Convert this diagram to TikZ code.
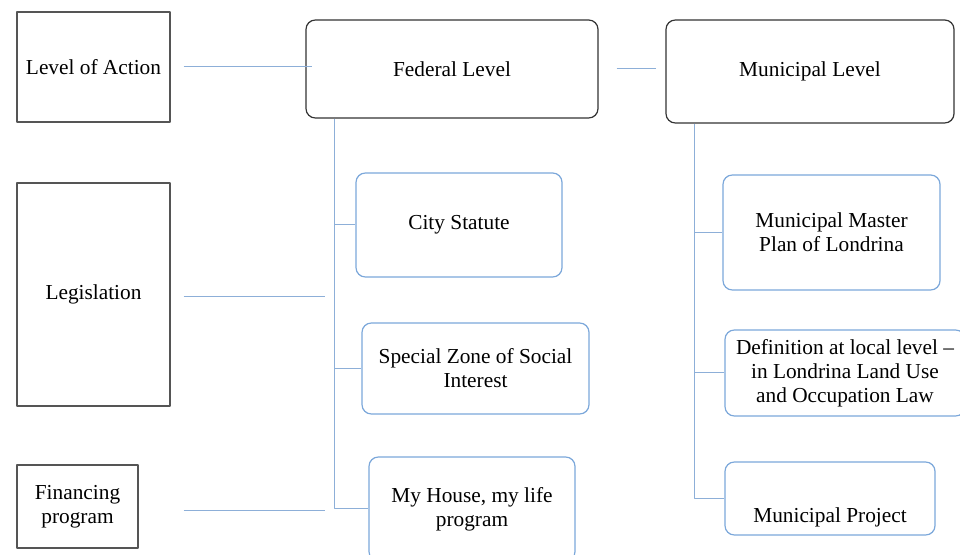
\documentclass[tikz,border=0pt]{standalone}
\usepackage{fontspec}
\setmainfont{Liberation Serif}
\newlength\px
\setlength\px{0.75pt}
\definecolor{boxblue}{HTML}{7BA7DA}
\definecolor{lineblue}{HTML}{8DAFD8}
\definecolor{boxgray}{HTML}{555555}
\begin{document}
\begin{tikzpicture}[x=0.75pt,y=-0.75pt,font=\fontsize{16}{18}\selectfont,line join=round,
	levelbox/.style={draw=boxgray,line width=0.9pt,align=center,inner sep=0pt},
	headbox/.style={draw=black!80,line width=0.9pt,rounded corners=7pt,align=center,inner sep=0pt},
	itembox/.style={draw=boxblue,line width=0.9pt,rounded corners=7pt,align=center,inner sep=0pt},
	link/.style={lineblue,line width=0.75pt}]
		\useasboundingbox (0,0) rectangle (960,555);
		\clip (0,0) rectangle (960,555);
		% left column
		\node[levelbox,minimum width=153\px,minimum height=110\px] (act) at (93.5,67) {Level of Action};
		\node[levelbox,minimum width=153\px,minimum height=223\px] (legis) at (93.5,294.5) {Legislation};
		\node[levelbox,minimum width=121\px,minimum height=83\px] (fin) at (77.5,506.5) {Financing\\program};
		% federal
		\node[headbox,minimum width=292\px,minimum height=98\px] (fed) at (452,69) {Federal Level};
		\node[itembox,minimum width=206\px,minimum height=104\px] (city) at (459,225) {City Statute};
		\node[itembox,minimum width=227\px,minimum height=91\px] (zeis) at (475.5,368.5) {Special Zone of Social\\Interest};
		\node[itembox,minimum width=206\px,minimum height=104\px] (house) at (472,509) {My House, my life\\program};
		% municipal
		\node[headbox,minimum width=288\px,minimum height=103\px] (mun) at (810,71.5) {Municipal Level};
		\node[itembox,minimum width=217\px,minimum height=115\px] (plan) at (831.5,232.5) {Municipal Master\\Plan of Londrina};
		\node[itembox,minimum width=240\px,minimum height=86\px] (defn) at (845,373) {Definition at local level –\\in Londrina Land Use\\and Occupation Law};
		\node[itembox,minimum width=210\px,minimum height=73\px,
			label={[anchor=base,yshift=13\px]south:Municipal Project}] (proj) at (830,498.5) {};
		% connectors
		\coordinate (ft) at ([xshift=29\px]fed.south west);
		\coordinate (mt) at ([xshift=29\px]mun.south west);
		\draw[link] ([xshift=13\px]act.east) -- ([xshift=7\px]act.east -| fed.west);
		\draw[link] ([xshift=18\px]fed.east) -- ([xshift=-9\px]fed.east -| mun.west);
		\draw[link] ([xshift=13\px,yshift=-2.5\px]legis.east) -- ([xshift=-9\px,yshift=-2.5\px]legis.east -| ft);
		\draw[link] ([xshift=45\px,yshift=-4.5\px]fin.east) -- ([xshift=-9\px,yshift=-4.5\px]fin.east -| ft);
		\draw[link] (ft) |- (house.west);
		\draw[link] (ft |- city.west) -- (city.west);
		\draw[link] (ft |- zeis.west) -- (zeis.west);
		\draw[link] (mt) |- (proj.west);
		\draw[link] (mt |- plan.west) -- (plan.west);
		\draw[link] (mt |- defn.west) -- (defn.west);
\end{tikzpicture}
\end{document}
